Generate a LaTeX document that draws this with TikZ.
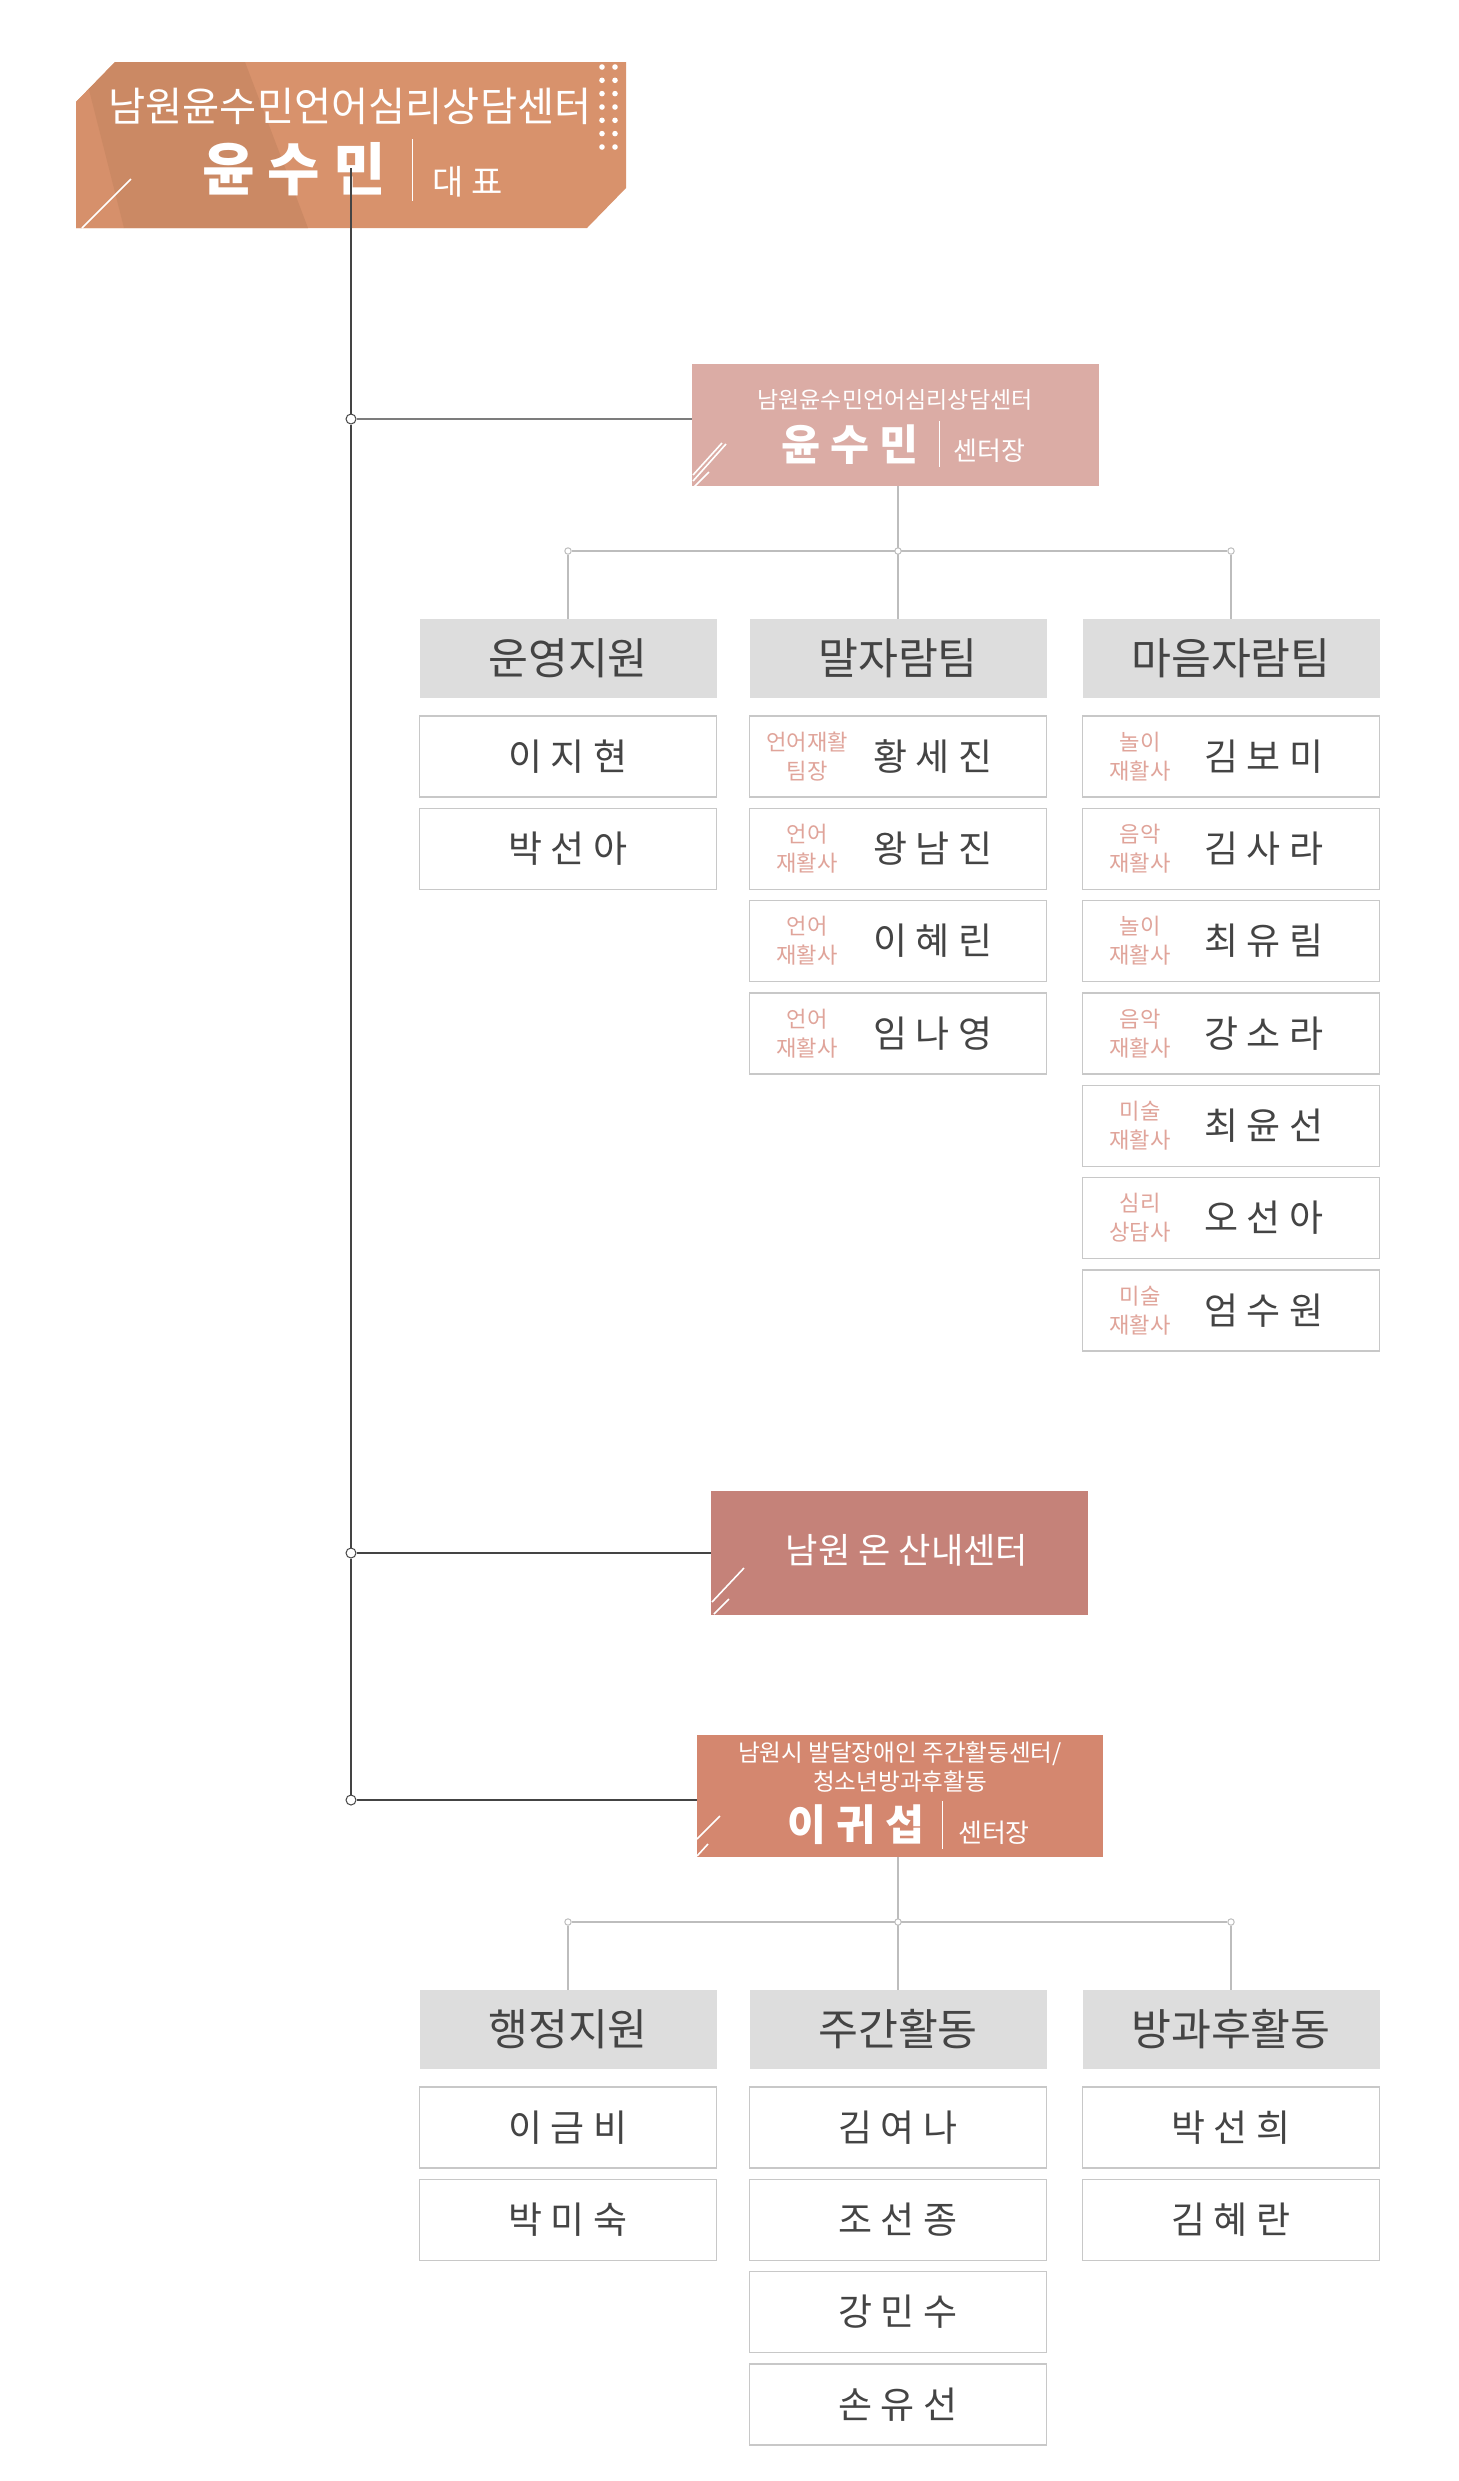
\documentclass[tikz,border=0pt]{standalone}
\usepackage{fontspec}
\setmainfont{Noto Sans CJK KR}
\definecolor{topbase}{HTML}{D8926C}
\definecolor{topdark}{HTML}{CB8964}
\definecolor{topband}{HTML}{D6906B}
\definecolor{boxpink}{HTML}{DBACA5}
\definecolor{boxrose}{HTML}{C58279}
\definecolor{boxcoral}{HTML}{D4876F}
\definecolor{hdrgray}{HTML}{DDDDDD}
\definecolor{cellgray}{HTML}{C8C8C8}
\definecolor{txtdark}{HTML}{444444}
\definecolor{subpink}{HTML}{E0A49A}
\definecolor{linegray}{HTML}{BDBDBD}
\definecolor{trunkgray}{HTML}{444444}
\begin{document}
\begin{tikzpicture}[x=0.5pt,y=-0.5pt,
  hdr/.style={fill=hdrgray, minimum width=148.5pt, minimum height=39.5pt, inner sep=0pt,
              font=\fontsize{21.7}{24}\selectfont, text=txtdark},
  cell/.style={draw=cellgray, line width=0.7pt, fill=white, minimum width=148.5pt,
               minimum height=40.5pt, inner sep=0pt},
  nm/.style={font=\fontsize{18.5}{21}\selectfont, text=txtdark, inner sep=0pt},
  sublab/.style={font=\fontsize{11.1}{14.5}\selectfont, text=subpink, align=center, inner sep=0pt},
  wtxt/.style={text=white, inner sep=0pt},
  deco/.style={white, line width=0.8pt},
  sub/.style={linegray, line width=0.6pt},
  junc/.style={circle, draw=linegray, fill=white, line width=0.5pt, minimum size=3.2pt, inner sep=0pt},
  bigjunc/.style={circle, draw=trunkgray, fill=white, line width=0.5pt, minimum size=5pt, inner sep=0pt},
  trunk/.style={trunkgray, line width=0.6pt}
]
\useasboundingbox (0,0) rectangle (1458,2481);
\fill[white] (0,0) rectangle (1458,2481);

% ---------- top box ----------
\begin{scope}
\path[clip] (76,102) -- (115,62) -- (626,62) -- (626,188) -- (587,228) -- (76,228) -- cycle;
\fill[topbase] (0,0) rectangle (700,300);
\fill[topband] (60,62) -- (82,62) -- (124,228) -- (60,228) -- cycle;
\fill[topdark] (82,62) -- (245,62) -- (308,228) -- (124,228) -- cycle;
\end{scope}
\draw[deco] (82,228) -- (131,179);
\foreach \yy in {67,80.3,93.6,107,120.3,133.6,147}{
  \fill[white] (602,\yy) circle (1.4pt);
  \fill[white] (615,\yy) circle (1.4pt);
}
\node[wtxt, font=\fontsize{20.2}{22}\selectfont] (t1) at (350,106) {남원윤수민언어심리상담센터};
\node[wtxt, font=\bfseries\fontsize{28.5}{31}\selectfont] (t2) at (294,169) {윤 수 민};
\draw[white, line width=0.5pt] (412,139) -- (412,201);
\node[wtxt, font=\fontsize{17}{19}\selectfont] (t3) at (468,182) {대 표};

% ---------- trunk ----------
\coordinate (t0) at (351,168);
\node[bigjunc] (j1) at (351,419) {};
\node[bigjunc] (j2) at (351,1553) {};
\node[bigjunc] (j3) at (351,1800) {};
\draw[trunk] (t0) -- (j1) -- (j2) -- (j3);

% ---------- box 2 ----------
\node[fill=boxpink, minimum width=203.5pt, minimum height=61pt, inner sep=0pt] (b2) at (895.5,425) {};
\draw[deco] (693,475) -- (722,443);
\draw[deco] (693,481) -- (726,444);
\draw[deco] (694,487) -- (709,472);
\node[wtxt, font=\fontsize{11.5}{13}\selectfont] (b2a) at (895,400) {남원윤수민언어심리상담센터};
\node[wtxt, font=\bfseries\fontsize{21.2}{24}\selectfont] (b2b) at (850,445) {윤 수 민};
\draw[white, line width=0.5pt] (939,421) -- (939,467);
\node[wtxt, font=\fontsize{13}{15}\selectfont] (b2c) at (989.5,451) {센터장};
\draw[trunkgray!70, line width=0.6pt] (j1) -- (j1 -| b2.west);

% ---------- box 3 ----------
\node[fill=boxrose, minimum width=188.5pt, minimum height=62pt, inner sep=0pt] (b3) at (899.5,1553) {};
\draw[deco] (712,1602) -- (744,1568);
\draw[deco] (714,1614) -- (729,1599);
\node[wtxt, font=\fontsize{17.6}{20}\selectfont] (b3a) at (907,1550) {남원 온 산내센터};
\draw[trunk] (j2) -- (j2 -| b3.west);

% ---------- box 4 ----------
\node[fill=boxcoral, minimum width=203pt, minimum height=61pt, inner sep=0pt] (b4) at (900,1796) {};
\draw[deco] (697,1839) -- (720,1816);
\draw[deco] (697,1856) -- (708,1844);
\node[wtxt, font=\fontsize{11.8}{13}\selectfont] (b4a) at (900,1754) {남원시 발달장애인 주간활동센터/};
\node[wtxt, font=\fontsize{11.8}{13}\selectfont] (b4b) at (900,1782) {청소년방과후활동};
\node[wtxt, font=\bfseries\fontsize{21.2}{24}\selectfont] (b4c) at (856,1825) {이 귀 섭};
\draw[white, line width=0.5pt] (942,1801) -- (942,1849);
\node[wtxt, font=\fontsize{13}{15}\selectfont] (b4d) at (994,1833) {센터장};
\draw[trunk] (j3) -- (j3 -| b4.west);

% ---------- upper sub-tree ----------
\node[hdr] (h1) at (568,658.5) {운영지원};
\node[hdr] (h2) at (898,658.5) {말자람팀};
\node[hdr] (h3) at (1231,658.5) {마음자람팀};
\coordinate (u0) at (898,551);
\node[junc] (u1) at (568,551) {};
\node[junc] (u3) at (1231,551) {};
\draw[sub] (b2.south -| u0) -- (u0);
\draw[sub] (u1) -- (u0) -- (u3);
\draw[sub] (u1) -- (h1.north);
\draw[sub] (u0) -- (h2.north);
\draw[sub] (u3) -- (h3.north);
\node[junc] (u2) at (u0) {};

\foreach \n [count=\i from 0] in {이 지 현, 박 선 아}{
  \node[cell] (ua\i) at (568,756.5+92.3*\i) {};
  \node[nm] (uan\i) at (ua\i.center) {\n};
}
\foreach \s/\n [count=\i from 0] in {{언어재활\\팀장}/{황 세 진},{언어\\재활사}/{왕 남 진},{언어\\재활사}/{이 혜 린},{언어\\재활사}/{임 나 영}}{
  \node[cell] (ub\i) at (898,756.5+92.3*\i) {};
  \node[sublab] (ubs\i) at ([xshift=-45.5pt]ub\i.center) {\s};
  \node[nm] (ubn\i) at ([xshift=17.5pt]ub\i.center) {\n};
}
\foreach \s/\n [count=\i from 0] in {{놀이\\재활사}/{김 보 미},{음악\\재활사}/{김 사 라},{놀이\\재활사}/{최 유 림},{음악\\재활사}/{강 소 라},{미술\\재활사}/{최 윤 선},{심리\\상담사}/{오 선 아},{미술\\재활사}/{엄 수 원}}{
  \node[cell] (uc\i) at (1231,756.5+92.3*\i) {};
  \node[sublab] (ucs\i) at ([xshift=-45.5pt]uc\i.center) {\s};
  \node[nm] (ucn\i) at ([xshift=16.5pt]uc\i.center) {\n};
}

% ---------- lower sub-tree ----------
\node[hdr] (k1) at (568,2029.5) {행정지원};
\node[hdr] (k2) at (898,2029.5) {주간활동};
\node[hdr] (k3) at (1231,2029.5) {방과후활동};
\coordinate (l0) at (898,1922);
\node[junc] (l1) at (568,1922) {};
\node[junc] (l3) at (1231,1922) {};
\draw[sub] (b4.south -| l0) -- (l0);
\draw[sub] (l1) -- (l0) -- (l3);
\draw[sub] (l1) -- (k1.north);
\draw[sub] (l0) -- (k2.north);
\draw[sub] (l3) -- (k3.north);
\node[junc] (l2) at (l0) {};

\foreach \n [count=\i from 0] in {이 금 비, 박 미 숙}{
  \node[cell] (la\i) at (568,2127.5+92.3*\i) {};
  \node[nm] (lan\i) at (la\i.center) {\n};
}
\foreach \n [count=\i from 0] in {김 여 나, 조 선 종, 강 민 수, 손 유 선}{
  \node[cell] (lb\i) at (898,2127.5+92.3*\i) {};
  \node[nm] (lbn\i) at (lb\i.center) {\n};
}
\foreach \n [count=\i from 0] in {박 선 희, 김 혜 란}{
  \node[cell] (lc\i) at (1231,2127.5+92.3*\i) {};
  \node[nm] (lcn\i) at (lc\i.center) {\n};
}
\end{tikzpicture}
\end{document}
